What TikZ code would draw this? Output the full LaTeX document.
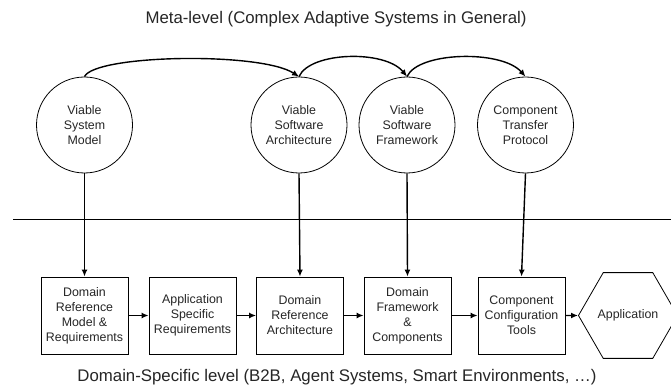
\documentclass[tikz,border=0pt]{standalone}
\usepackage{fontspec}
\setmainfont{Liberation Sans}
\usetikzlibrary{arrows.meta,shapes.geometric}
\begin{document}
\begin{tikzpicture}[x=1pt,y=-1pt,
  txt/.style={text=black!85},
  circ/.style={circle,draw,line width=0.8pt,minimum size=96pt,inner sep=0pt,align=center,txt,font=\fontsize{12.4}{15}\selectfont},
  stepbox/.style={rectangle,draw,line width=0.8pt,minimum width=87pt,minimum height=77pt,inner sep=0pt,align=center,txt,font=\fontsize{12.4}{15}\selectfont},
  hexa/.style={regular polygon,regular polygon sides=6,draw,line width=0.8pt,minimum size=82pt,inner sep=0pt,align=center,txt,font=\fontsize{12.4}{15}\selectfont},
  arr/.style={line width=1.4pt,-{Latex[length=7pt,width=6pt]}},
  title/.style={txt,font=\fontsize{16.8}{19}\selectfont}
]
\useasboundingbox (0,0) rectangle (671,387);
\fill[white] (0,0) rectangle (671,387);

\node[title] (top) at (336,19) {Meta-level (Complex Adaptive Systems in General)};
\node[title] (bot) at (337,377) {Domain-Specific level (B2B, Agent Systems, Smart Environments, \dots)};

\node[circ] (vsm) at (84.5,125) {Viable\\System\\Model};
\node[circ] (vsa) at (299,125) {Viable\\Software\\Architecture};
\node[circ] (vsf) at (407,125) {Viable\\Software\\Framework};
\node[circ] (ctp) at (525.5,125) {Component\\Transfer\\Protocol};

\draw[line width=0.8pt] (13,219) -- (671,219);

\node[stepbox] (b1) at (84.5,315.5) {Domain\\Reference\\Model \&\\Requirements};
\node[stepbox] (b2) at (192.5,315.5) {Application\\Specific\\Requirements};
\node[stepbox] (b3) at (300,315.5) {Domain\\Reference\\Architecture};
\node[stepbox] (b4) at (407.5,315.5) {Domain\\Framework\\\&\\Components};
\node[stepbox] (b5) at (521.5,315.5) {Component\\Configuration\\Tools};
\node[hexa] (app) at (628,315.5) {Application};

\draw[arr] (vsm.north) .. controls +(10.5,-22) and +(-39,-25) .. (vsa.north);
\draw[arr] (vsa.north) .. controls +(11,-25) and +(-22,-27) .. (vsf.north);
\draw[arr] (vsf.north) .. controls +(11,-25) and +(-24,-27) .. (ctp.north);

\draw[arr] (vsm.south) -- (b1.north);
\draw[arr] (vsa.south) -- (b3.north);
\draw[arr] (vsf.south) -- (b4.north);
\draw[arr] (ctp.south) -- (b5.north);

\draw[arr] (b1.east) -- (b2.west);
\draw[arr] (b2.east) -- (b3.west);
\draw[arr] (b3.east) -- (b4.west);
\draw[arr] (b4.east) -- (b5.west);
\draw[arr] (b5.east) -- (app.west);
\end{tikzpicture}
\end{document}
